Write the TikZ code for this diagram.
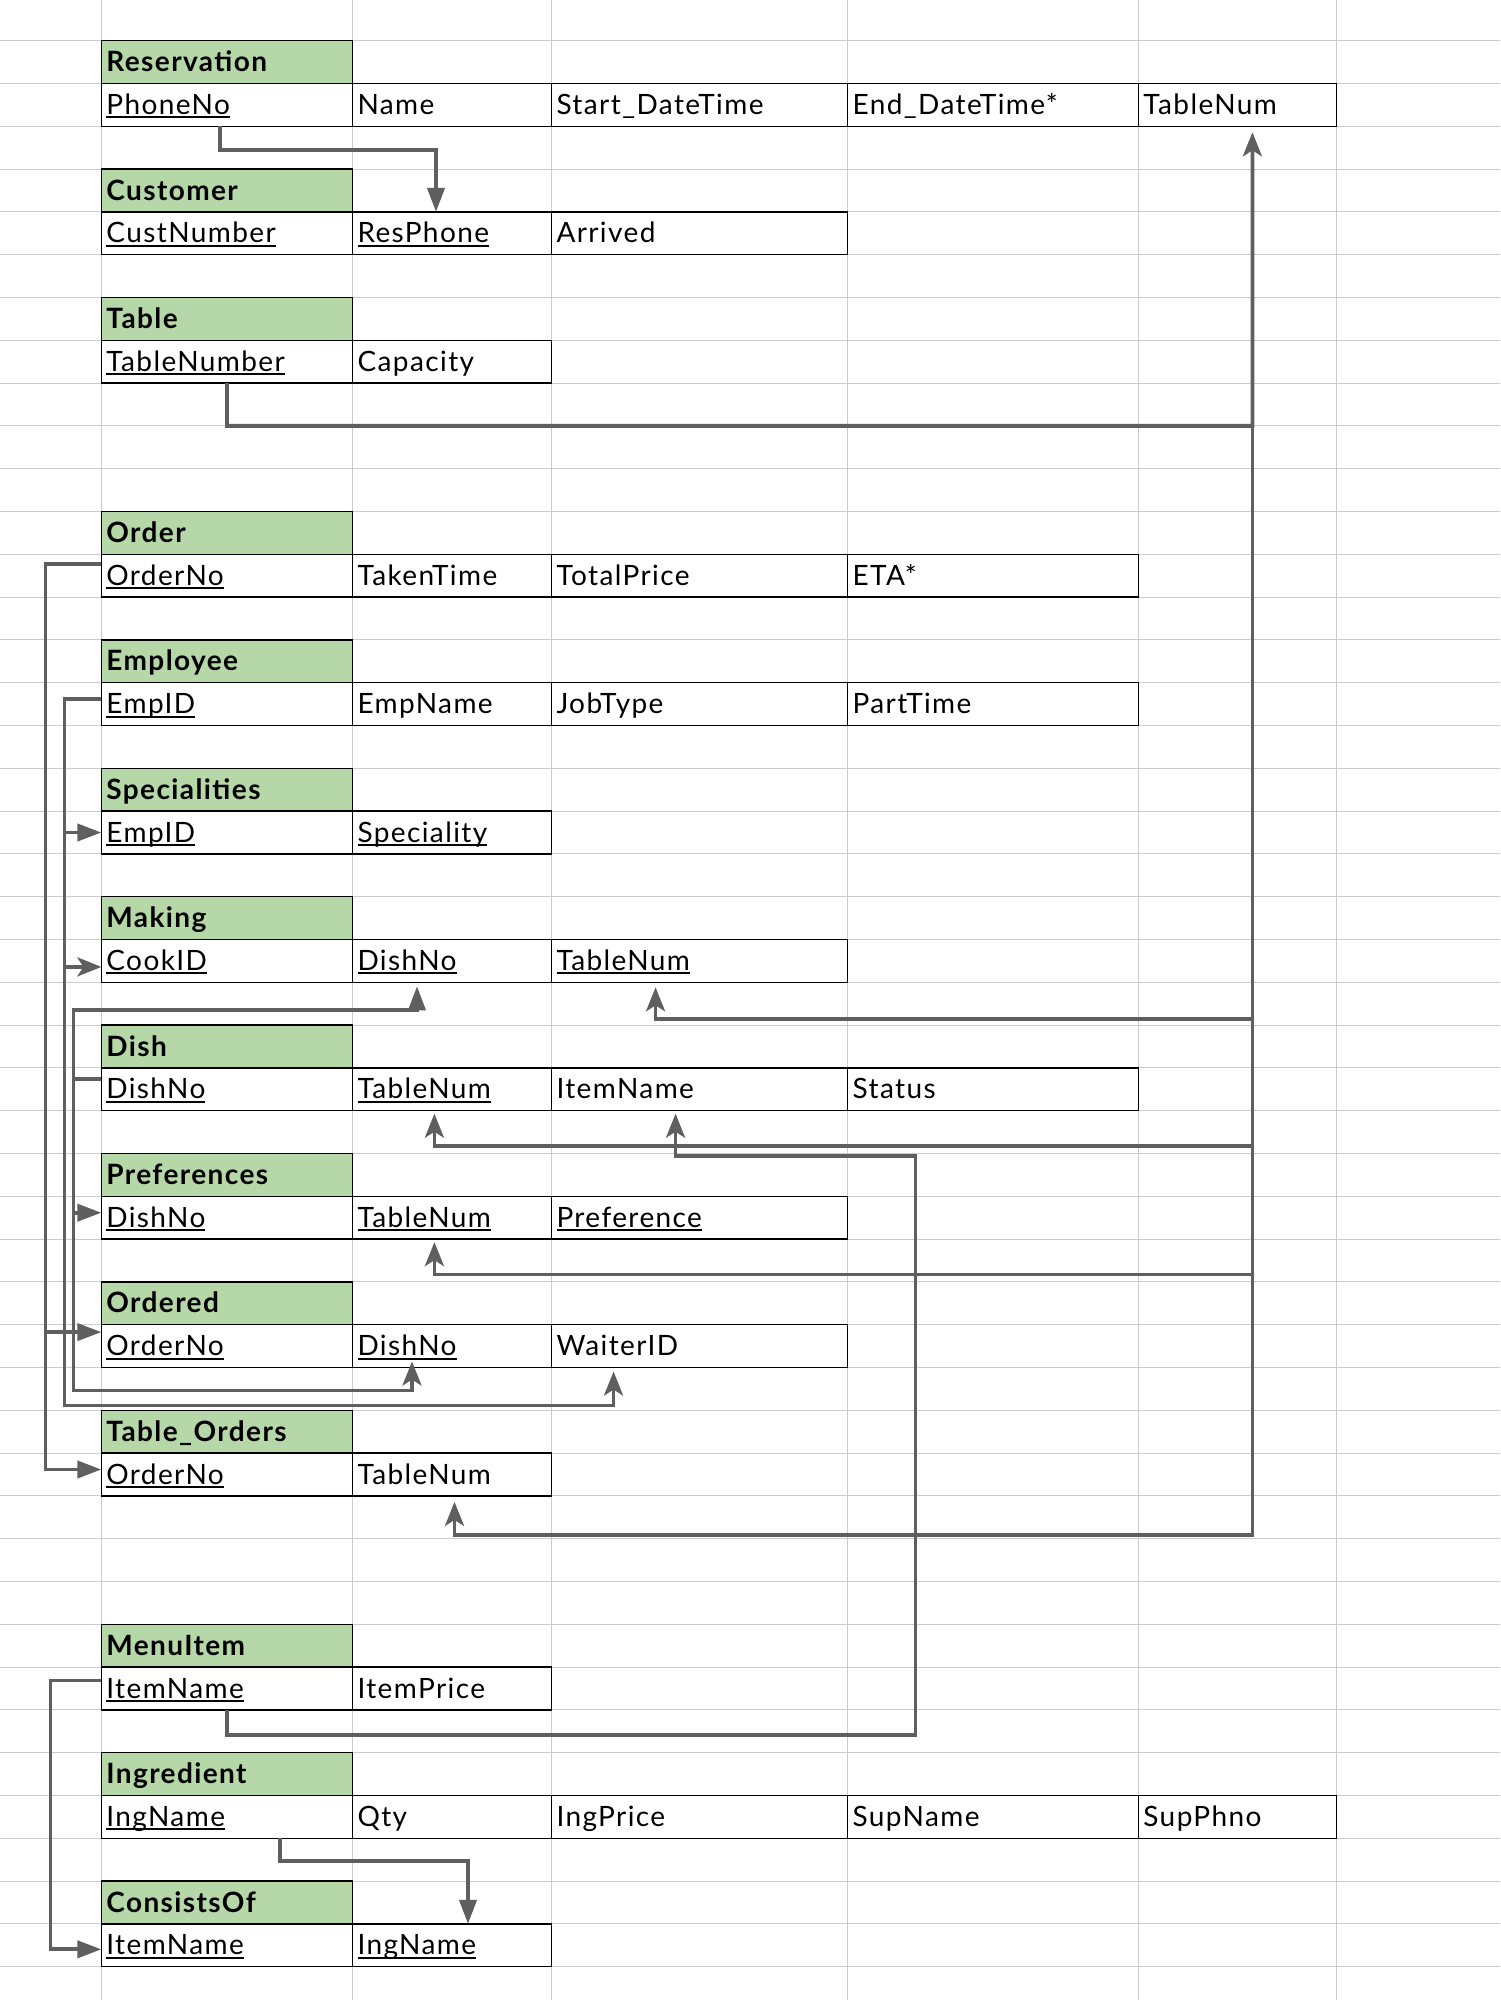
\documentclass[tikz,border=0pt]{standalone}
\usepackage{fontspec}
\setmainfont{Lato}[LetterSpace=5]
\usetikzlibrary{arrows.meta,positioning,calc}
\definecolor{hdr}{HTML}{B6D7A8}
\definecolor{gridc}{HTML}{CCCCCC}
\definecolor{fkc}{HTML}{5F5F5F}
\newcommand{\pk}[1]{\setbox0\hbox{#1}\rlap{\rule[-1.9pt]{\wd0}{1pt}}\box0}
\tikzset{
  cell/.style={draw=black,line width=0.65pt,fill=white,rectangle,inner xsep=2.5pt,inner ysep=0pt,outer sep=0pt,
    minimum height=21.4pt,text height=11.6pt,text depth=2pt,align=left,font=\fontsize{14}{16}\selectfont},
  ca/.style={cell,text width=120.55pt},
  cb/.style={cell,text width=94.5pt},
  cc/.style={cell,text width=143.05pt},
  cd/.style={cell,text width=140.4pt},
  ce/.style={cell,text width=94pt},
  hd/.style={ca,fill=hdr,font=\fontsize{14}{16}\selectfont\bfseries},
  gl/.style={draw=gridc,line width=0.5pt},
  fk/.style={draw=fkc,line width=1.9pt},
  ft/.style={fk,-{Triangle[length=12pt,width=8.5pt]}},
  fs/.style={fk,-{Stealth[length=12pt,width=9.5pt,inset=3pt]}},
}

\begin{document}
\begin{tikzpicture}[x=0.5pt,y=-0.5pt]
  \useasboundingbox (0,0) rectangle (1500,2000);
  % ---- sheet grid
  \foreach \gx in {101.4,352.5,551.5,847.6,1138.4,1336.4}
    \draw[gl] (\gx,0) -- (\gx,2000);
  \foreach \k in {0,...,45}
    \draw[gl] (0,{40.7+42.8*\k}) -- (1500,{40.7+42.8*\k});

  % ---- tables
  \node[hd,anchor=north west] (res) at (101.4,40.7) {Reservation};
  \node[ca,below=0pt of res] (res-phone) {\pk{PhoneNo}};
  \node[cb,right=0pt of res-phone] (res-name) {Name};
  \node[cc,right=0pt of res-name] (res-start) {Start\_DateTime};
  \node[cd,right=0pt of res-start] (res-end) {End\_DateTime*};
  \node[ce,right=0pt of res-end] (res-table) {TableNum};

  \node[hd,anchor=north west] (cust) at (101.4,169.1) {Customer};
  \node[ca,below=0pt of cust] (cust-no) {\pk{CustNumber}};
  \node[cb,right=0pt of cust-no] (cust-phone) {\pk{ResPhone}};
  \node[cc,right=0pt of cust-phone] (cust-arr) {Arrived};

  \node[hd,anchor=north west] (tab) at (101.4,297.5) {Table};
  \node[ca,below=0pt of tab] (tab-no) {\pk{TableNumber}};
  \node[cb,right=0pt of tab-no] (tab-cap) {Capacity};

  \node[hd,anchor=north west] (ord) at (101.4,511.5) {Order};
  \node[ca,below=0pt of ord] (ord-no) {\pk{OrderNo}};
  \node[cb,right=0pt of ord-no] (ord-time) {TakenTime};
  \node[cc,right=0pt of ord-time] (ord-price) {TotalPrice};
  \node[cd,right=0pt of ord-price] (ord-eta) {ETA*};

  \node[hd,anchor=north west] (emp) at (101.4,639.9) {Employee};
  \node[ca,below=0pt of emp] (emp-id) {\pk{EmpID}};
  \node[cb,right=0pt of emp-id] (emp-name) {EmpName};
  \node[cc,right=0pt of emp-name] (emp-job) {JobType};
  \node[cd,right=0pt of emp-job] (emp-part) {PartTime};

  \node[hd,anchor=north west] (spec) at (101.4,768.3) {Specialities};
  \node[ca,below=0pt of spec] (spec-id) {\pk{EmpID}};
  \node[cb,right=0pt of spec-id] (spec-sp) {\pk{Speciality}};

  \node[hd,anchor=north west] (mak) at (101.4,896.7) {Making};
  \node[ca,below=0pt of mak] (mak-cook) {\pk{CookID}};
  \node[cb,right=0pt of mak-cook] (mak-dish) {\pk{DishNo}};
  \node[cc,right=0pt of mak-dish] (mak-table) {\pk{TableNum}};

  \node[hd,anchor=north west] (dish) at (101.4,1025.1) {Dish};
  \node[ca,below=0pt of dish] (dish-no) {\pk{DishNo}};
  \node[cb,right=0pt of dish-no] (dish-table) {\pk{TableNum}};
  \node[cc,right=0pt of dish-table] (dish-item) {ItemName};
  \node[cd,right=0pt of dish-item] (dish-status) {Status};

  \node[hd,anchor=north west] (pref) at (101.4,1153.5) {Preferences};
  \node[ca,below=0pt of pref] (pref-dish) {\pk{DishNo}};
  \node[cb,right=0pt of pref-dish] (pref-table) {\pk{TableNum}};
  \node[cc,right=0pt of pref-table] (pref-pref) {\pk{Preference}};

  \node[hd,anchor=north west] (odd) at (101.4,1281.9) {Ordered};
  \node[ca,below=0pt of odd] (odd-order) {\pk{OrderNo}};
  \node[cb,right=0pt of odd-order] (odd-dish) {\pk{DishNo}};
  \node[cc,right=0pt of odd-dish] (odd-waiter) {WaiterID};

  \node[hd,anchor=north west] (tord) at (101.4,1410.3) {Table\_Orders};
  \node[ca,below=0pt of tord] (tord-order) {\pk{OrderNo}};
  \node[cb,right=0pt of tord-order] (tord-table) {TableNum};

  \node[hd,anchor=north west] (menu) at (101.4,1624.3) {MenuItem};
  \node[ca,below=0pt of menu] (menu-item) {\pk{ItemName}};
  \node[cb,right=0pt of menu-item] (menu-price) {ItemPrice};

  \node[hd,anchor=north west] (ing) at (101.4,1752.7) {Ingredient};
  \node[ca,below=0pt of ing] (ing-name) {\pk{IngName}};
  \node[cb,right=0pt of ing-name] (ing-qty) {Qty};
  \node[cc,right=0pt of ing-qty] (ing-price) {IngPrice};
  \node[cd,right=0pt of ing-price] (ing-sup) {SupName};
  \node[ce,right=0pt of ing-sup] (ing-phno) {SupPhno};

  \node[hd,anchor=north west] (cons) at (101.4,1881.1) {ConsistsOf};
  \node[ca,below=0pt of cons] (cons-item) {\pk{ItemName}};
  \node[cb,right=0pt of cons-item] (cons-ing) {\pk{IngName}};

  % ---- foreign keys
  \draw[ft] ($(res-phone.south)+(-7,0)$) -- ++(0,24) -| ($(cust-phone.north)+(-16,0)$);

  % table number trunk on the right
  \coordinate (tk) at (1252.4,425.9);
  \draw[fs] (tab-no.south) |- (tk) -- ($(res-table.south)+(15,6)$);
  \draw[fs] (tk) |- ($(mak-table.south)+(-44,37)$) -- ($(mak-table.south)+(-44,5)$);
  \draw[fs] (tk) |- ($(dish-table.south)+(-17.6,35)$) -- ($(dish-table.south)+(-17.6,3)$);
  \draw[fs] (tk) |- ($(pref-table.south)+(-17.6,35.4)$) -- ($(pref-table.south)+(-17.6,3)$);
  \draw[fs] (tk) |- ($(tord-table.south)+(2.5,39.4)$) -- ($(tord-table.south)+(2.5,6)$);

  % order number
  \draw[ft] ($(ord-no.west)+(0,-12)$) -- ++(-56,0) |- ($(tord-order.west)+(0,-5)$);
  \draw[ft] ($(ord-no.west)+(-56,-12)$) |- ($(odd-order.west)+(0,-14)$);

  % employee id
  \draw[fs] ($(emp-id.west)+(0,-5)$) -- ++(-37,0) |- ($(odd-waiter.south)+(-86,38)$)
    -- ($(odd-waiter.south)+(-86,4)$);
  \draw[ft] ($(emp-id.west)+(-37,-5)$) |- (spec-id.west);
  \draw[fs] ($(emp-id.west)+(-37,-5)$) |- ($(mak-cook.west)+(0,6)$);

  % dish number
  \draw[ft] ($(dish-no.west)+(0,-10)$) -- ++(-28,0) |- ($(mak-dish.south)+(-35,28)$)
    -- ($(mak-dish.south)+(-35,4)$);
  \draw[ft] ($(dish-no.west)+(-28,-10)$) |- ($(pref-dish.west)+(0,-5)$);
  \draw[fs] ($(dish-no.west)+(-28,-10)$) |- ($(odd-dish.south)+(-40,23)$) -- ($(odd-dish.south)+(-40,-6)$);

  % menu items and ingredients
  \draw[fs] (menu-item.south) -- ++(0,25) -| ($(dish-item.south)+(216,45)$) -| ($(dish-item.south)+(-24,3)$);
  \draw[ft] ($(menu-item.west)+(0,-8)$) -- ++(-51,0) |- ($(cons-item.west)+(0,4)$);
  \draw[ft] ($(ing-name.south)+(53,0)$) -- ++(0,23) -| ($(cons-ing.north)+(16,0)$);
\end{tikzpicture}
\end{document}
